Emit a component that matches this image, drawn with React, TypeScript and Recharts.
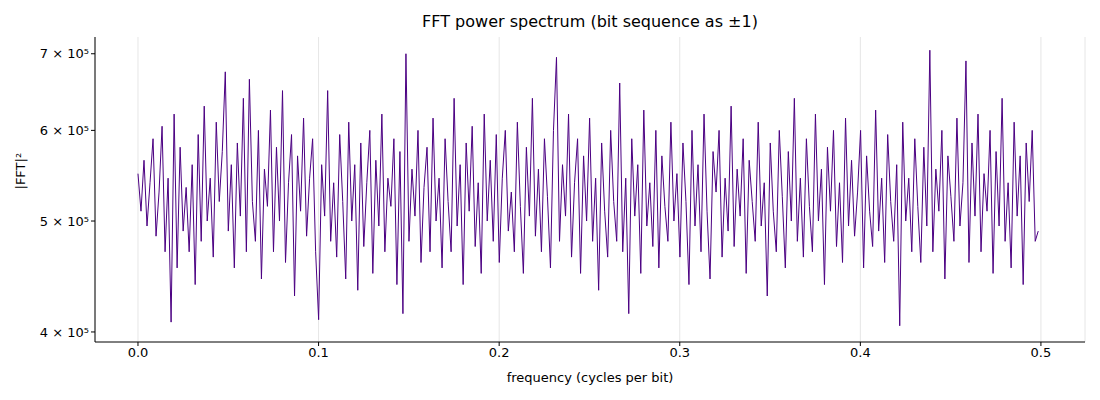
import { LineChart, Line, XAxis, YAxis, CartesianGrid } from "recharts";

// |FFT|^2 power values in units of 1e3 (evenly spaced bins 0..~0.5)
const POWER_K = [
  550, 510, 565, 495, 540, 590, 485, 530, 605, 470, 545, 408, 620, 455, 580, 490, 535, 470, 560, 440,
  595, 480, 630, 500, 545, 465, 610, 520, 575, 675, 490, 560, 455, 585, 505, 640, 470, 665, 520, 480,
  600, 445, 555, 515, 625, 470, 580, 500, 650, 460, 540, 595, 430, 570, 510, 615, 485, 545, 590, 470,
  410, 560, 505, 650, 480, 540, 465, 595, 520, 445, 610, 500, 560, 435, 585, 475, 540, 600, 450, 565,
  495, 620, 470, 545, 515, 590, 440, 575, 415, 700, 480, 555, 505, 600, 460, 535, 580, 470, 615, 500,
  545, 455, 590, 520, 470, 640, 495, 560, 440, 585, 510, 605, 475, 540, 450, 620, 500, 565, 480, 595,
  460, 545, 600, 490, 530, 470, 610, 515, 450, 580, 505, 640, 485, 555, 470, 590, 525, 455, 600, 695,
  480, 560, 505, 620, 465, 540, 590, 450, 570, 500, 615, 480, 545, 435, 585, 510, 465, 600, 520, 480,
  660, 470, 545, 415, 590, 505, 560, 450, 625, 495, 540, 475, 600, 455, 570, 515, 480, 610, 500, 550,
  465, 585, 520, 440, 600, 495, 560, 470, 620, 510, 445, 575, 530, 600, 465, 545, 490, 630, 475, 555,
  505, 590, 450, 565, 520, 480, 610, 495, 540, 430, 585, 510, 470, 600, 525, 455, 575, 500, 640, 480,
  545, 465, 590, 515, 470, 620, 500, 555, 440, 580, 510, 600, 475, 540, 460, 615, 495, 565, 485, 530,
  600, 455, 570, 510, 475, 625, 490, 545, 460, 595, 520, 480, 560, 405, 610, 500, 545, 470, 590, 515,
  460, 580, 495, 705, 470, 555, 510, 600, 445, 570, 525, 480, 615, 495, 540, 690, 460, 585, 505, 620,
  470, 550, 510, 600, 450, 575, 495, 640, 480, 540, 455, 610, 505, 570, 440, 585, 520, 600, 480, 490,
];
const X_TICKS = [0, 0.1, 0.2, 0.3, 0.4, 0.5];
const Y_TICKS = [400000, 500000, 600000, 700000];

const data = POWER_K.map((p, i) => ({ f: (i * 0.4985) / (POWER_K.length - 1), p: p * 1000 }));

const font = "DejaVu Sans, sans-serif";

export default function App() {
  return (
    <div style={{ position: "absolute", left: 0, top: 0, width: 1100, height: 400, fontFamily: font, background: "#fff" }}>
      <div style={{ position: "absolute", top: 12, left: 95, width: 990, textAlign: "center", fontSize: 16, color: "#000" }}>
        FFT power spectrum (bit sequence as ±1)
      </div>
      <LineChart width={1100} height={400} data={data} margin={{ top: 37, right: 15, left: 10, bottom: 18 }}>
        <CartesianGrid horizontal={false} stroke="#e6e6e6" />
        <XAxis
          dataKey="f"
          type="number"
          domain={[-0.0238, 0.5244]}
          ticks={X_TICKS}
          tickFormatter={(v) => v.toFixed(1)}
          height={40}
          stroke="#000"
          tick={{ fill: "#000", fontSize: 13, fontFamily: font }}
          tickSize={4}
          label={{ value: "frequency (cycles per bit)", position: "insideBottom", offset: 0, fill: "#000", fontSize: 13, fontFamily: font }}
        />
        <YAxis
          dataKey="p"
          scale="log"
          domain={[392000, 724000]}
          ticks={Y_TICKS}
          allowDataOverflow
          tickFormatter={(v) => `${v / 100000} × 10⁵`}
          width={85}
          stroke="#000"
          tick={{ fill: "#000", fontSize: 13, fontFamily: font }}
          tickSize={4}
          label={{ value: "|FFT|²", angle: -90, position: "insideLeft", offset: 10, fill: "#000", fontSize: 13, fontFamily: font }}
        />
        <Line dataKey="p" stroke="#4b0082" strokeWidth={1} dot={false} isAnimationActive={false} />
      </LineChart>
    </div>
  );
}
